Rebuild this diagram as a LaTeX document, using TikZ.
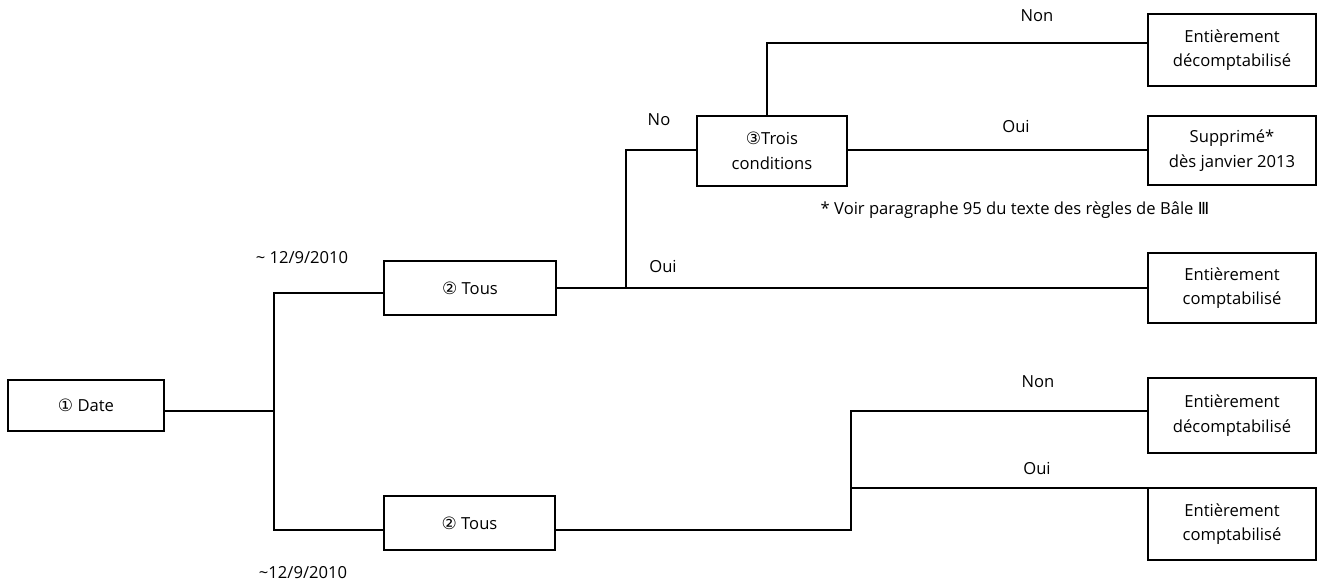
\documentclass[tikz,border=0pt]{standalone}
\usepackage{fontspec}
\setmainfont{Open Sans}
\newfontfamily\symfont{DejaVu Sans}
\newcommand{\circnum}[1]{{\symfont\fontsize{17}{20}\selectfont #1}}
\begin{document}
\begin{tikzpicture}[x=1pt,y=-1pt,
  every node/.style={font=\fontsize{16.6}{24.5}\selectfont},
  box/.style={draw,line width=1.8pt,inner sep=0pt,align=center},
  wire/.style={line width=1.8pt},
  lbl/.style={inner sep=0pt}]
\useasboundingbox (0,0) rectangle (1318,586);

% decision boxes
\node[box,minimum width=156,minimum height=51] (date)  at (86,405.5)  {\circnum{①} Date};
\node[box,minimum width=172,minimum height=54] (tous1) at (470,288)   {\circnum{②} Tous};
\node[box,minimum width=171,minimum height=54] (tous2) at (469.5,523) {\circnum{②} Tous};
\node[box,minimum width=150,minimum height=70] (trois) at (772,151)   {\circnum{③}Trois\\conditions};

% outcome boxes
\node[box,minimum width=168,minimum height=72] (r1) at (1232,50)    {Entièrement\\décomptabilisé};
\node[box,minimum width=168,minimum height=69] (r2) at (1232,150.5) {Supprimé*\\dès janvier 2013};
\node[box,minimum width=168,minimum height=70] (r3) at (1232,288)   {Entièrement\\comptabilisé};
\node[box,minimum width=168,minimum height=75] (r4) at (1232,415.5) {Entièrement\\décomptabilisé};
\node[box,minimum width=168,minimum height=72] (r5) at (1232,524)   {Entièrement\\comptabilisé};

% branch points
\coordinate (a)  at (274,411);
\coordinate (s1) at (274,293);
\coordinate (s2) at (274,530);
\coordinate (t1) at (626,288);
\coordinate (t2) at (626,150);
\coordinate (u1) at (767,43);
\coordinate (v1) at (851,530);
\coordinate (v2) at (851,411);
\coordinate (v3) at (851,488);

% connectors
\draw[wire] (date.east |- a) -- (a);
\draw[wire] (tous1.west |- s1) -- (s1) -- (s2) -- (tous2.west |- s2);
\draw[wire] (tous1.east |- t1) -- (r3.west |- t1);
\draw[wire] (t1) -- (t2) -- (trois.west |- t2);
\draw[wire] (trois.east |- t2) -- (r2.west |- t2);
\draw[wire] (trois.north -| u1) -- (u1) -- (r1.west |- u1);
\draw[wire] (tous2.east |- v1) -- (v1) -- (v2) -- (r4.west |- v2);
\draw[wire] (v3) -- (r5.north west |- v3);

% branch labels
\node[lbl] (d1)  at (302,258) {\textasciitilde{} 12/9/2010};
\node[lbl] (d2)  at (303,573) {\textasciitilde12/9/2010};
\node[lbl] (no)  at (659,120) {No};
\node[lbl] (n1)  at (1037,16)  {Non};
\node[lbl] (o1)  at (1016,126) {Oui};
\node[lbl] (o2)  at (663,266)  {Oui};
\node[lbl] (n2)  at (1038,382) {Non};
\node[lbl] (o3)  at (1037,468) {Oui};
\node[lbl] (fn)  at (1015,210) {* Voir paragraphe 95 du texte des règles de Bâle {\symfont Ⅲ}};
\end{tikzpicture}
\end{document}
